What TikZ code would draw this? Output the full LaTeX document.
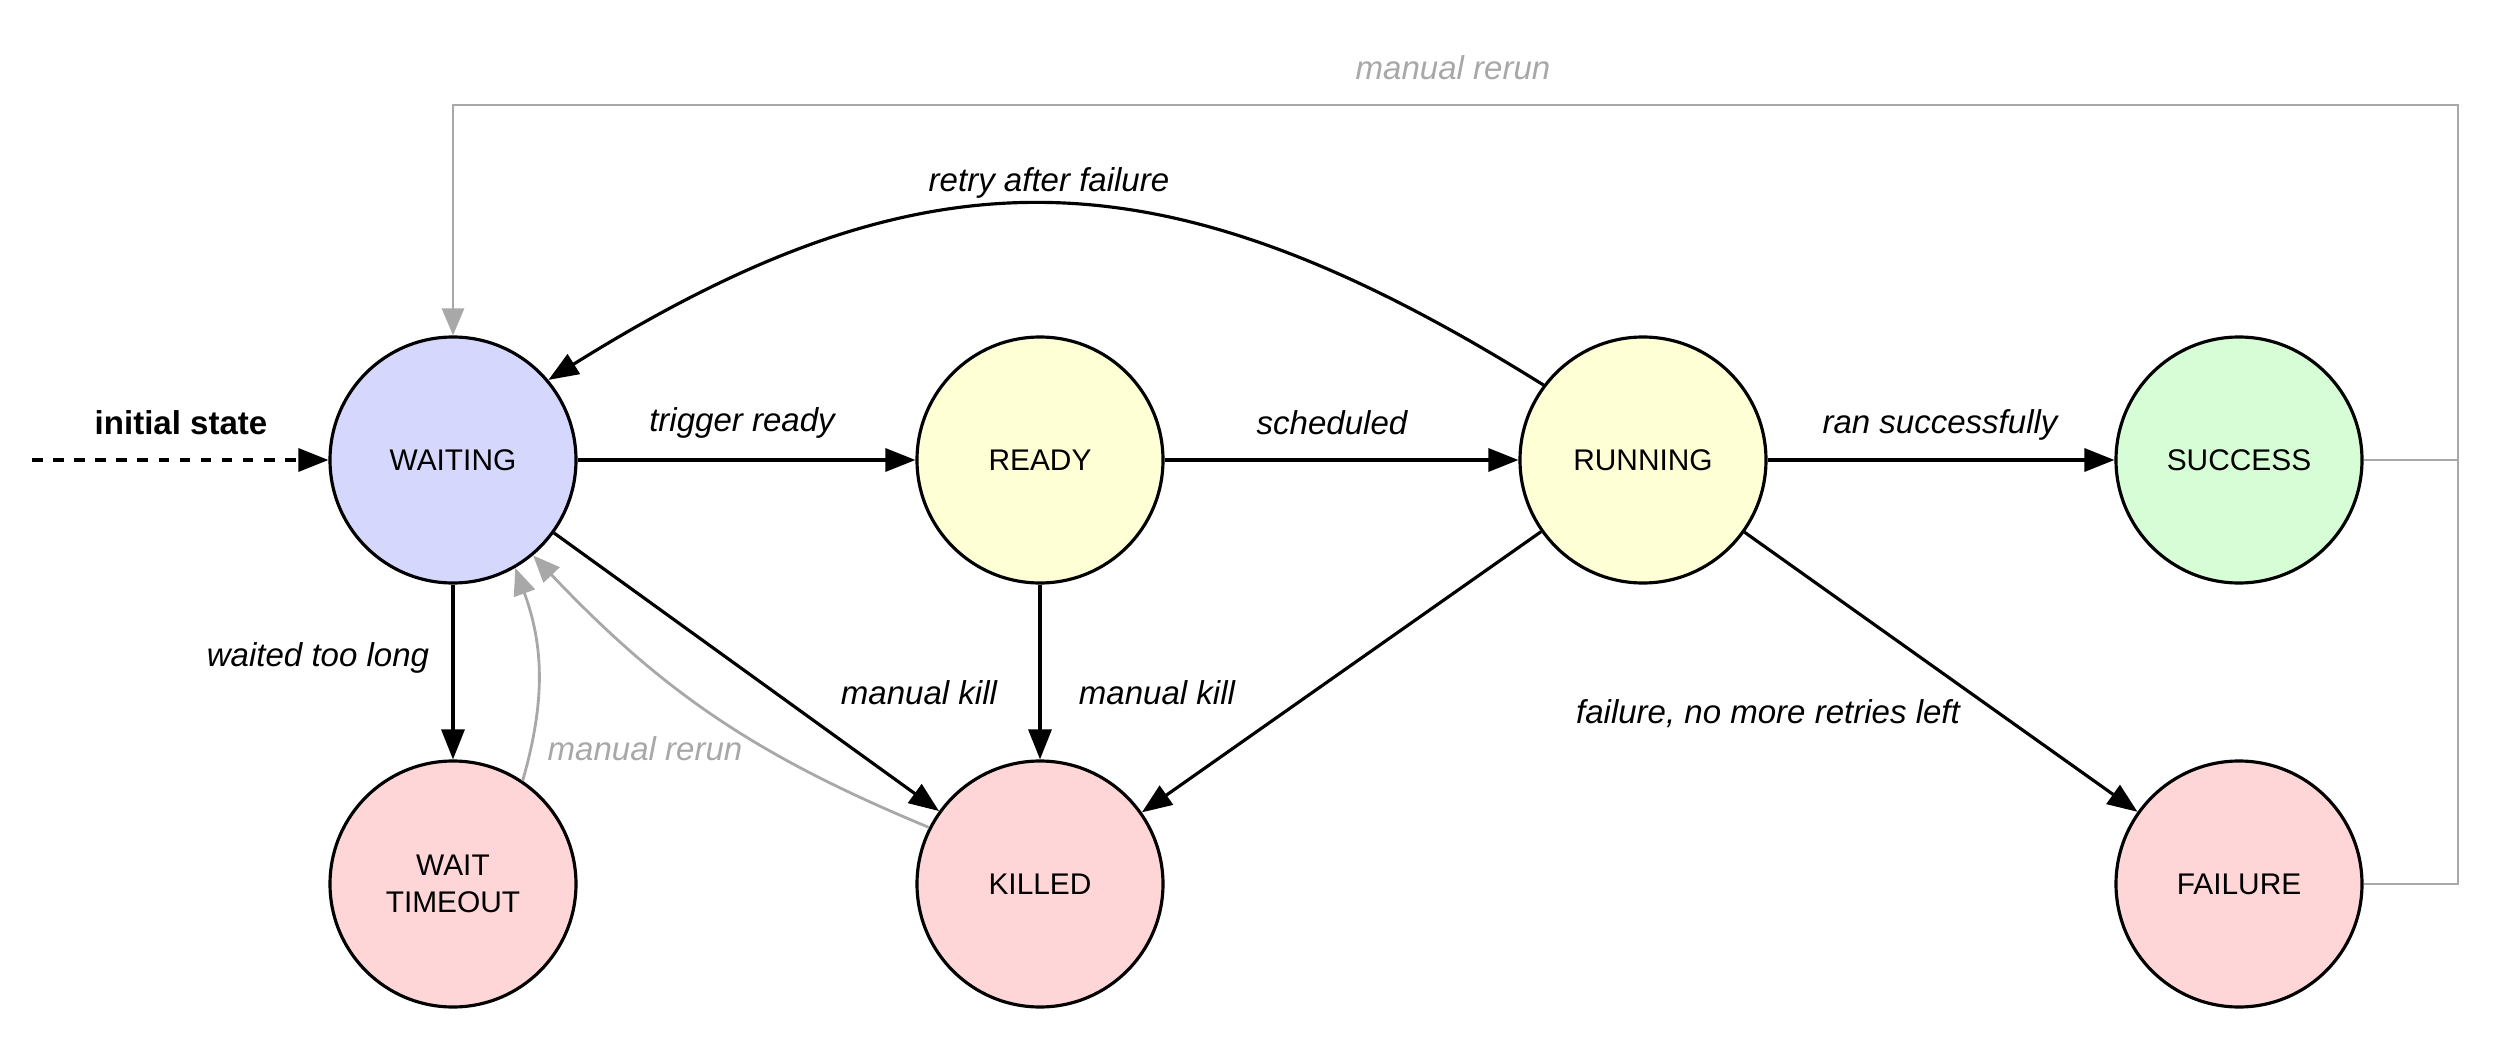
\documentclass[tikz,border=0pt]{standalone}
\usepackage{fontspec}
\setmainfont{Liberation Sans}
\usetikzlibrary{arrows.meta}
\definecolor{waitblue}{HTML}{D6D7FD}
\definecolor{runyellow}{HTML}{FFFFD6}
\definecolor{okgreen}{HTML}{D6FDD6}
\definecolor{badred}{HTML}{FFD6D8}
\definecolor{rerungray}{HTML}{A8A8A8}
\tikzset{
    state/.style={circle, draw, line width=0.9pt, minimum size=2.46cm, inner sep=0pt, align=center, font=\fontsize{8.5}{10.5}\selectfont},
    trans/.style={line width=0.9pt, -{Triangle[length=0.3cm, width=0.23cm]}},
    rerun/.style={draw=rerungray, line width=0.8pt, -{Triangle[length=0.27cm, width=0.22cm]}, rerungray},
    lbl/.style={font=\fontsize{9.4}{11}\selectfont\itshape},
    rerunlbl/.style={lbl, text=rerungray}
}
\begin{document}
\begin{tikzpicture}
    % Fix the frame to the size of the reference
    \useasboundingbox (0,0) rectangle (24.93,10.41);
    \node[state, fill=waitblue]  (waiting) at (4.53,5.81)  {WAITING};
    \node[state, fill=runyellow] (ready)   at (10.40,5.81) {READY};
    \node[state, fill=runyellow] (running) at (16.43,5.81) {RUNNING};
    \node[state, fill=okgreen]   (success) at (22.39,5.81) {SUCCESS};
    \node[state, fill=badred]    (timeout) at (4.53,1.57)  {WAIT\\TIMEOUT};
    \node[state, fill=badred]    (killed)  at (10.40,1.57) {KILLED};
    \node[state, fill=badred]    (failure) at (22.39,1.57) {FAILURE};
    \coordinate (start) at (0.32,5.81);
    \coordinate (bus) at (24.58,9.36);
    % Transitions
    \draw[trans, dashed] (start) -- (waiting);
    \draw[trans] (waiting) -- (ready);
    \draw[trans] (ready) -- (running);
    \draw[trans] (running) -- (success);
    \draw[trans] (waiting) -- (timeout);
    \draw[trans] (waiting) -- (killed);
    \draw[trans] (ready) -- (killed);
    \draw[trans] (running) -- (killed);
    \draw[trans] (running) -- (failure);
    \draw[trans] (running.143) to[out=148, in=32, looseness=1.15] (waiting.40);
    % Manual reruns
    \draw[rerun] (timeout.56) to[bend right=18] (waiting.-60);
    \draw[rerun] (killed.153) to[bend left=12] (waiting.-50);
    \draw[rerun] (success.east) -- (success.east -| bus) -- (bus) -| (waiting.north);
    \draw[rerun, -] (failure.east) -| (bus);
    % Labels
    \node[font=\fontsize{9.4}{11}\selectfont\bfseries] (initlbl) at (1.81,6.18) {initial state};
    \node[lbl] (triglbl)   at (7.42,6.18)  {trigger ready};
    \node[lbl] (schedlbl)  at (13.32,6.18) {scheduled};
    \node[lbl] (oklbl)     at (19.40,6.16) {ran successfully};
    \node[lbl] (retrylbl)  at (10.49,8.58) {retry after failure};
    \node[lbl] (longlbl)   at (3.18,3.83)  {waited too long};
    \node[lbl] (killlbl)   at (9.19,3.48)  {manual kill};
    \node[lbl] (kill2lbl)  at (11.57,3.48) {manual kill};
    \node[lbl] (faillbl)   at (17.68,3.27) {failure, no more retries left};
    \node[rerunlbl] (rerunlbl) at (14.53,9.73) {manual rerun};
    \node[rerunlbl] (rerun2lbl) at (6.45,2.92) {manual rerun};
\end{tikzpicture}
\end{document}
